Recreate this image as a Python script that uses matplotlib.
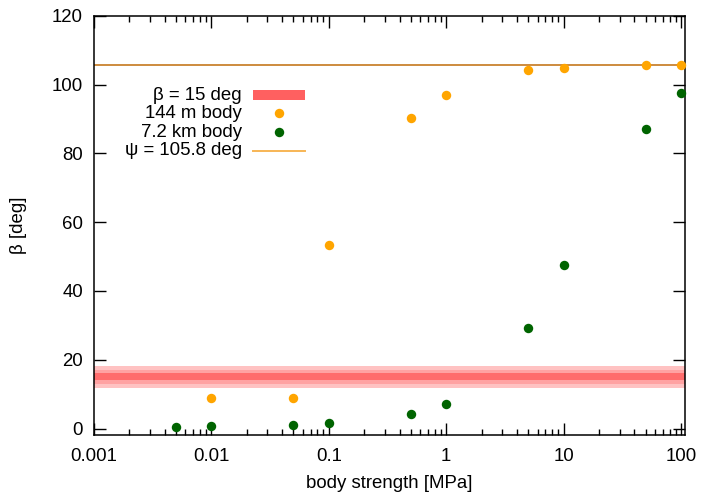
import matplotlib
matplotlib.use("Agg")
import matplotlib.pyplot as plt
from matplotlib.lines import Line2D
from matplotlib.patches import Rectangle
import matplotlib.ticker as mticker

plt.rcParams['font.family'] = ['Liberation Sans', 'DejaVu Sans']

# data
strength_small = [0.01, 0.05, 0.1, 0.5, 1, 5, 10, 50, 100]
beta_small = [9.0, 9.0, 53.2, 90.2, 96.9, 104.2, 104.8, 105.6, 105.8]
strength_large = [0.005, 0.01, 0.05, 0.1, 0.5, 1, 5, 10, 50, 100]
beta_large = [0.5, 0.6, 1.0, 1.6, 4.3, 7.2, 29.2, 47.4, 87.2, 97.4]
beta_ref = 15
psi = 105.8
labels = ["β = 15 deg", "144 m body", "7.2 km body", "ψ = 105.8 deg"]

fs = 13.4
fig = plt.figure(figsize=(7.02, 4.94), dpi=100)
ax = fig.add_axes([94/702, 1-434.7/494, (685-94)/702, (434.7-15.7)/494])

# red band
ax.axhspan(beta_ref-3.2, beta_ref+3.2, color='#ffc2c2', lw=0, zorder=1)
ax.axhspan(beta_ref-2, beta_ref+2, color='#ffa2a2', lw=0, zorder=1)
ax.axhspan(beta_ref-1, beta_ref+1, color='#ff6c6c', lw=0, zorder=1)

ax.axhline(psi, color='#cd8b3e', lw=1.4, zorder=2)

ax.plot(strength_small, beta_small, 'o', color='#ffa500', ms=6.8, mew=0, zorder=3, clip_on=False)
ax.plot(strength_large, beta_large, 'o', color='#006400', ms=6.8, mew=0, zorder=3, clip_on=False)

ax.set_xscale('log')
ax.set_xlim(0.001, 108)
ax.set_ylim(-1.8, 120)
ax.set_yticks([0, 20, 40, 60, 80, 100, 120])
ax.set_xticks([0.001, 0.01, 0.1, 1, 10, 100])
ax.set_xticklabels(['0.001', '0.01', '0.1', '1', '10', '100'])
ax.xaxis.set_minor_locator(mticker.LogLocator(base=10, subs=range(2, 10), numticks=20))
ax.xaxis.set_minor_formatter(mticker.NullFormatter())

ax.tick_params(which='major', direction='in', length=8.5, width=1.0, top=True, right=True,
               labelsize=fs, pad=8)
ax.tick_params(which='minor', direction='in', length=4, width=1.0, top=True, right=True)
ax.tick_params(axis='x', which='major', pad=9.5)
for s in ax.spines.values():
    s.set_linewidth(1.1)

ax.set_xlabel('body strength [MPa]', fontsize=fs, labelpad=7.5)
ax.set_ylabel('β [deg]', fontsize=fs, labelpad=18)

# manual gnuplot-style legend
tx = 0.2499
hx0, hx1 = 0.2685, 0.357
hxm = (hx0 + hx1) / 2
rows = [0.8107, 0.767, 0.7217, 0.6778]
for lab, yy in zip(labels, rows):
    ax.text(tx, yy, lab, transform=ax.transAxes, ha='right', va='center', fontsize=fs, zorder=5)
ax.add_patch(Rectangle((hx0, rows[0]-0.011), hx1-hx0, 0.022, transform=ax.transAxes,
                       color='#ff6060', lw=0, zorder=5))
ax.add_line(Line2D([hxm], [rows[1]], transform=ax.transAxes, marker='o', ms=6.8, mew=0,
                   color='#ffa500', zorder=5))
ax.add_line(Line2D([hxm], [rows[2]], transform=ax.transAxes, marker='o', ms=6.8, mew=0,
                   color='#006400', zorder=5))
ax.add_line(Line2D([hx0, hx1], [rows[3], rows[3]], transform=ax.transAxes,
                   color='#f7b555', lw=1.4, zorder=5))

fig.savefig('out.png', dpi=100)
